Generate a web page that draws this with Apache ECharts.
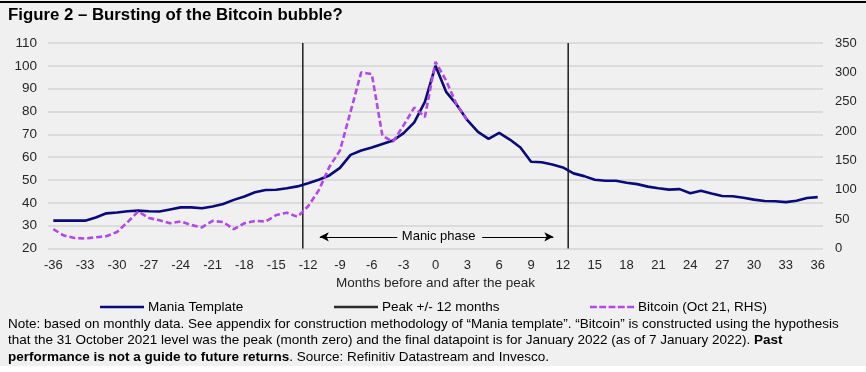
<!DOCTYPE html>
<html><head><meta charset="utf-8">
<script src="https://cdn.jsdelivr.net/npm/echarts@6/dist/echarts.min.js"></script>
<style>
body{margin:0;background:#fff}
#c{width:866px;height:372px;background:linear-gradient(#f0f0f0 0,#f0f0f0 366px,#fff 366px)}
</style>
</head><body><div id="c"></div>
<script>
const months = ['-36','-35','-34','-33','-32','-31','-30','-29','-28','-27','-26','-25','-24','-23','-22','-21','-20','-19','-18','-17','-16','-15','-14','-13','-12','-11','-10','-9','-8','-7','-6','-5','-4','-3','-2','-1','0','1','2','3','4','5','6','7','8','9','10','11','12','13','14','15','16','17','18','19','20','21','22','23','24','25','26','27','28','29','30','31','32','33','34','35','36'];
const maniaTemplate = [32.2,32.2,32.2,32.2,33.6,35.4,35.8,36.3,36.6,36.3,36.2,37.1,38,38,37.6,38.4,39.5,41.3,42.8,44.6,45.6,45.7,46.4,47.2,48.6,50.1,52,55.3,61,62.9,64.2,65.8,67.3,70.5,75.2,84.2,100,88.6,83,76.2,71.1,68,70.6,67.7,64.2,58,57.8,56.8,55.5,52.9,51.7,50.1,49.7,49.7,48.8,48.2,47.1,46.4,45.8,46,44.2,45.3,44.1,43,42.9,42.2,41.4,40.8,40.7,40.3,40.9,42.1,42.5];
const bitcoinRHS = [33,22,18,17,19,21,28,45,63,52,48,43,46,40,36,47,45,33,43,47,46,57,61,54,72,99,139,167,233,300,297,192,182,210,240,224,318,286,245,218];
const peakLines = [-12.5, 12.5];
const leftTicks = {min:20, max:110, interval:10};
const rightTicks = {min:0, max:350, interval:50};
const manicArrowY = 25.1;
const manicLeft = [-3.6, -10.9];
const manicRight = [4.4, 11.1];
const manicLabelX = 0.3;

const FONT = 'Liberation Sans';
const SOLID_ICON = 'path://M0,0H45V2.6H0Z';
const DASH_ICON = 'path://M0,0h7v2.6h-7z M9.5,0h7v2.6h-7z M19,0h7v2.6h-7z M28.5,0h7v2.6h-7z M38,0h7v2.6h-7z';
const chart = echarts.init(document.getElementById('c'), null, {renderer:'canvas'});
const legendText = {color:'#000', fontSize:13.5, fontFamily:FONT, padding:[0,0,0,-1]};
const legendBase = {top:295, itemWidth:44, itemHeight:2.6, itemGap:0, textStyle:legendText};
chart.setOption({
  animation:false,
  backgroundColor:'transparent',
  textStyle:{fontFamily:FONT},
  grid:{left:48, right:43, top:43, bottom:123.5, containLabel:false},
  legend:[
    Object.assign({data:[{name:'Mania Template', icon:SOLID_ICON}], left:95}, legendBase),
    Object.assign({data:[{name:'Peak +/- 12 months', icon:SOLID_ICON}], left:329}, legendBase),
    Object.assign({data:[{name:'Bitcoin (Oct 21, RHS)', icon:DASH_ICON}], left:585}, legendBase)
  ],
  xAxis:[
    {type:'category', data:months, boundaryGap:true,
     axisLine:{show:false}, axisTick:{show:false},
     axisLabel:{interval:2, color:'#262626', fontSize:13, margin:10},
     name:'Months before and after the peak', nameLocation:'middle', nameGap:28,
     nameTextStyle:{color:'#262626', fontSize:13.5}},
    {type:'value', min:-36.5, max:36.5, show:false}
  ],
  yAxis:[
    {type:'value', min:leftTicks.min, max:leftTicks.max, interval:leftTicks.interval,
     axisLine:{show:false}, axisTick:{show:false},
     axisLabel:{color:'#262626', fontSize:13.5, margin:11},
     splitLine:{lineStyle:{color:'#d4d4d4', width:1.5}}},
    {type:'value', min:rightTicks.min, max:rightTicks.max, interval:rightTicks.interval, position:'right',
     axisLine:{show:false}, axisTick:{show:false},
     axisLabel:{color:'#262626', fontSize:13, margin:12},
     splitLine:{show:false}}
  ],
  series:[
    {name:'Peak +/- 12 months', type:'line', xAxisIndex:1, yAxisIndex:0, symbol:'none',
     data:[[peakLines[0], leftTicks.min],[peakLines[0], leftTicks.max]],
     lineStyle:{color:'#2b2b2b', width:1.6}, itemStyle:{color:'#2b2b2b'}, silent:true,
     markLine:{silent:true, symbol:['none','arrow'], symbolSize:[7,9],
       label:{show:false}, lineStyle:{color:'#000', width:1, type:'solid'},
       data:[
         [{coord:[manicLeft[0], manicArrowY]},{coord:[manicLeft[1], manicArrowY]}],
         [{coord:[manicRight[0], manicArrowY]},{coord:[manicRight[1], manicArrowY]}]
       ]},
     markPoint:{silent:true, symbol:'circle', symbolSize:0,
       label:{show:true, position:'inside', formatter:'Manic phase', color:'#000', fontSize:13, fontFamily:FONT},
       data:[{coord:[manicLabelX, manicArrowY]}]}
    },
    {name:'Peak +/- 12 months', type:'line', xAxisIndex:1, yAxisIndex:0, symbol:'none',
     data:[[peakLines[1], leftTicks.min],[peakLines[1], leftTicks.max]],
     lineStyle:{color:'#2b2b2b', width:1.6}, itemStyle:{color:'#2b2b2b'}, silent:true},
    {name:'Mania Template', type:'line', xAxisIndex:0, yAxisIndex:0, symbol:'none',
     data:maniaTemplate, lineStyle:{color:'#0a0a78', width:2.6}, itemStyle:{color:'#0a0a78'}},
    {name:'Bitcoin (Oct 21, RHS)', type:'line', xAxisIndex:0, yAxisIndex:1, symbol:'none',
     data:bitcoinRHS, lineStyle:{color:'#b348e8', width:2.6, type:[6,3]}, itemStyle:{color:'#b348e8'}}
  ],
  graphic:[
    {type:'rect', left:0, top:1, shape:{width:866, height:2}, style:{fill:'#000'}},
    {type:'text', left:8, top:7, style:{text:'Figure 2 – Bursting of the Bitcoin bubble?', font:'bold 16.8px "Liberation Sans"', fill:'#000'}},
    {type:'text', left:8, top:317, style:{text:'Note: based on monthly data. See appendix for construction methodology of “Mania template”. “Bitcoin” is constructed using the hypothesis', font:'13.5px "Liberation Sans"', fill:'#000'}},
    {type:'text', left:8, top:333.5, style:{text:'that the 31 October 2021 level was the peak (month zero) and the final datapoint is for January 2022 (as of 7 January 2022). {b|Past}', font:'13.5px "Liberation Sans"', fill:'#000', rich:{b:{fontWeight:'bold', fontSize:13.5, fontFamily:FONT}}}},
    {type:'text', left:8, top:350, style:{text:'{b|performance is not a guide to future returns}. Source: Refinitiv Datastream and Invesco.', font:'13.5px "Liberation Sans"', fill:'#000', rich:{b:{fontWeight:'bold', fontSize:13.5, fontFamily:FONT}}}}
  ]
});
</script></body></html>
